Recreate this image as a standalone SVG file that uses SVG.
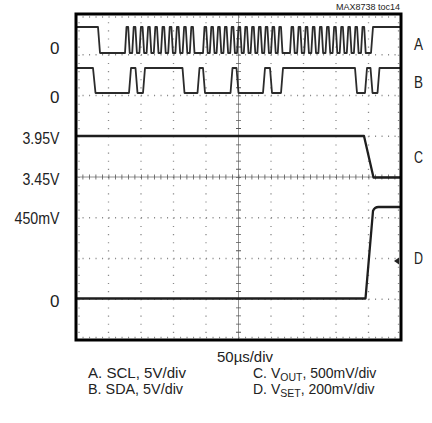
<svg xmlns="http://www.w3.org/2000/svg" width="432" height="423" viewBox="0 0 432 423">
<style>
.bg{fill:#fff}
.gh{stroke:#8a8a8a;stroke-width:1.3;stroke-dasharray:1.1 5.4;fill:none}
.gv{stroke:#8a8a8a;stroke-width:1.3;stroke-dasharray:1.1 7.05;fill:none}
.ax{stroke:#777;stroke-width:0.8;fill:none}
.tk{stroke:#555;stroke-width:4;fill:none}
.frame{fill:none;stroke:#000;stroke-width:3}
.tr{fill:none;stroke:#2b2b2b;stroke-width:1.8;stroke-linejoin:round}
.trb{fill:none;stroke:#1e1e1e;stroke-width:2.3;stroke-linejoin:round}
text{font-family:"Liberation Sans",Arial,sans-serif;fill:#222}
.lab{font-size:17px;text-anchor:end}
.ch{font-size:16.5px}
.leg{font-size:14px}
.sub{font-size:10.5px}
</style>
<rect class="bg" x="0" y="0" width="432" height="423"/>
<g id="grid">
<line class="gh" x1="76" y1="54.75" x2="401" y2="54.75"/>
<line class="gh" x1="76" y1="95.5" x2="401" y2="95.5"/>
<line class="gh" x1="76" y1="136.25" x2="401" y2="136.25"/>
<line class="gh" x1="76" y1="217.75" x2="401" y2="217.75"/>
<line class="gh" x1="76" y1="258.5" x2="401" y2="258.5"/>
<line class="gh" x1="76" y1="299.25" x2="401" y2="299.25"/>
<line class="gh" x1="76" y1="17" x2="401" y2="17"/>
<line class="gh" x1="76" y1="337.5" x2="401" y2="337.5"/>
<line class="gv" x1="108.5" y1="14" x2="108.5" y2="340"/>
<line class="gv" x1="141" y1="14" x2="141" y2="340"/>
<line class="gv" x1="173.5" y1="14" x2="173.5" y2="340"/>
<line class="gv" x1="206" y1="14" x2="206" y2="340"/>
<line class="gv" x1="271" y1="14" x2="271" y2="340"/>
<line class="gv" x1="303.5" y1="14" x2="303.5" y2="340"/>
<line class="gv" x1="336" y1="14" x2="336" y2="340"/>
<line class="gv" x1="368.5" y1="14" x2="368.5" y2="340"/>
<line class="gv" x1="79" y1="14" x2="79" y2="340"/>
<line class="gv" x1="398.5" y1="14" x2="398.5" y2="340"/>
<line class="ax" x1="76" y1="177" x2="401" y2="177"/>
<line class="ax" x1="238.5" y1="14" x2="238.5" y2="340"/>
<line class="tk" x1="76" y1="177" x2="401" y2="177" style="stroke-dasharray:0.8 5.7;stroke-width:5"/>
<line class="tk" x1="238.5" y1="14" x2="238.5" y2="340" style="stroke-dasharray:0.8 7.35;stroke-width:5"/>
</g>
<g id="traces">
<path id="traceA" class="tr" d="M76,27 H98 L100,53 H125
l1.5-26h1.7l1.5 26h2.5 l1.5-26h1.7l1.5 26h2.5 l1.5-26h1.7l1.5 26h2.5 l1.5-26h1.7l1.5 26h2.5 l1.5-26h1.7l1.5 26h2.5
l1.5-26h1.7l1.5 26h2.5 l1.5-26h1.7l1.5 26h2.5 l1.5-26h1.7l1.5 26h2.5 l1.5-26h1.7l1.5 26h2.5 l1.5-26h1.7l1.5 26h2.5
H203
l1.5-26h1.7l1.5 26h2.1 l1.5-26h1.7l1.5 26h2.1 l1.5-26h1.7l1.5 26h2.1 l1.5-26h1.7l1.5 26h2.1 l1.5-26h1.7l1.5 26h2.1 l1.5-26h1.7l1.5 26h2.1
l1.5-26h1.7l1.5 26h2.1 l1.5-26h1.7l1.5 26h2.1 l1.5-26h1.7l1.5 26h2.1 l1.5-26h1.7l1.5 26h2.1 l1.5-26h1.7l1.5 26h2.1 l1.5-26h1.7l1.5 26h2.1
H290
l1.5-26h1.7l1.5 26h2.4 l1.5-26h1.7l1.5 26h2.4 l1.5-26h1.7l1.5 26h2.4 l1.5-26h1.7l1.5 26h2.4 l1.5-26h1.7l1.5 26h2.4 l1.5-26h1.7l1.5 26h2.4
l1.5-26h1.7l1.5 26h2.4 l1.5-26h1.7l1.5 26h2.4 l1.5-26h1.7l1.5 26h2.4 l1.5-26h1.7l1.5 26h2.4 l1.5-26h1.7l1.5 26h2.4
H371 L373,27 H401"/>
<path id="traceB" class="tr" d="M76,68 H93 L95.5,93 H129 L131,68 H135.5 L137.5,93 H143 L145,68 H182.5 L184.5,93 H197.5 L199.5,68 H203 L205,93 H230.5 L232.5,68 H236.5 L238.5,93 H263 L265,68 H270 L272,93 H281 L283,68 H355 L357,93 H365 L367,68 H370.5 L372.5,93 H377.5 L379.5,68 H401"/>
<path id="traceC" class="trb" d="M76,136 H364 L373.5,177.5 H401"/>
<path id="traceD" class="trb" d="M76,298.5 H365.5 L373,211 Q374.5,207 378.5,207 H401"/>
<polygon id="markerD" points="394,261 399,257.5 399,264.5" fill="#222"/>
</g>
<rect id="frame" class="frame" x="76" y="14" width="325" height="326"/>
<g id="labels">
<text x="400" y="10" style="font-size:9px;text-anchor:end">MAX8738 toc14</text>
<text class="lab" x="59.5" y="53.5">0</text>
<text class="lab" x="59.5" y="103">0</text>
<text class="lab" x="59.5" y="143.5" textLength="37" lengthAdjust="spacingAndGlyphs">3.95V</text>
<text class="lab" x="59.5" y="184.5" textLength="37" lengthAdjust="spacingAndGlyphs">3.45V</text>
<text class="lab" x="59.5" y="223.5" textLength="45" lengthAdjust="spacingAndGlyphs">450mV</text>
<text class="lab" x="59.5" y="306.5">0</text>
<text class="ch" x="414" y="50" textLength="9" lengthAdjust="spacingAndGlyphs">A</text>
<text class="ch" x="414" y="87.5" textLength="9" lengthAdjust="spacingAndGlyphs">B</text>
<text class="ch" x="414" y="163" textLength="9" lengthAdjust="spacingAndGlyphs">C</text>
<text class="ch" x="414" y="264" textLength="9" lengthAdjust="spacingAndGlyphs">D</text>
<text class="leg" x="217" y="362" textLength="56" lengthAdjust="spacingAndGlyphs">50µs/div</text>
<text class="leg" x="88" y="378" textLength="98" lengthAdjust="spacingAndGlyphs">A. SCL, 5V/div</text>
<text class="leg" x="88" y="394" textLength="95" lengthAdjust="spacingAndGlyphs">B. SDA, 5V/div</text>
<text class="leg" x="253" y="378">C. V<tspan class="sub" dy="2.5">OUT</tspan><tspan dy="-2.5">, 500mV/div</tspan></text>
<text class="leg" x="253" y="394">D. V<tspan class="sub" dy="2.5">SET</tspan><tspan dy="-2.5">, 200mV/div</tspan></text>
</g>
</svg>
